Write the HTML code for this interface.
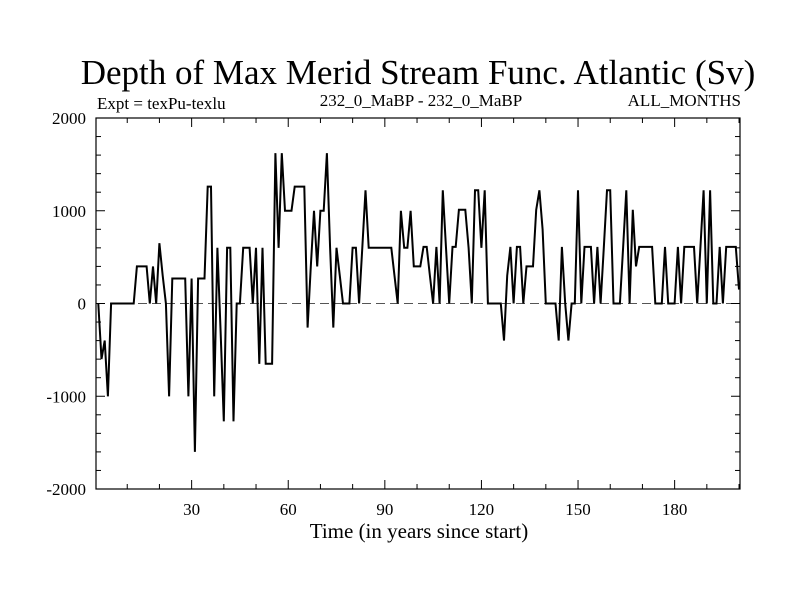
<!DOCTYPE html>
<html><head><meta charset="utf-8"><style>
body{margin:0;background:#fff;width:800px;height:600px;overflow:hidden}
text{font-family:"Liberation Serif",serif;fill:#000}
</style></head><body>
<svg id="chart" width="800" height="600" xmlns="http://www.w3.org/2000/svg">
<text x="418" y="84" font-size="35" text-anchor="middle">Depth of Max Merid Stream Func. Atlantic (Sv)</text>
<text x="97" y="109" font-size="17">Expt = texPu-texlu</text>
<text x="421" y="106" font-size="17" text-anchor="middle">232_0_MaBP - 232_0_MaBP</text>
<text x="741" y="106" font-size="17" text-anchor="end">ALL_MONTHS</text>
<text x="419" y="538" font-size="21" text-anchor="middle">Time (in years since start)</text>
<g id="axes"></g>
<g id="series"></g>
</svg>
<script>
const years = [];
for (let i = 1; i <= 200; i++) years.push(i);
const values = [
0,-600,-400,-1000,0,0,0,0,0,0,0,0,
400,400,400,400,0,400,0,650,300,0,
-1000,270,270,270,270,270,-1000,270,-1600,270,270,270,
1260,1260,-1000,600,-300,-1270,600,600,-1270,0,0,
600,600,600,0,600,-650,600,-650,-650,-650,
1620,600,1620,1000,1000,1000,1260,1260,1260,1260,
-260,400,1000,400,1000,1000,1620,600,-260,600,300,
0,0,0,600,600,0,600,1220,
600,600,600,600,600,600,600,600,300,0,
1000,600,600,1000,400,400,400,610,610,300,
0,610,0,1220,600,0,610,610,1010,1010,1010,600,0,
1220,1220,600,1220,0,0,0,0,0,-400,300,
610,0,610,610,0,400,400,400,1010,1220,800,
0,0,0,0,-400,610,0,-400,0,0,
1220,0,610,610,610,0,610,0,600,1220,1220,
0,0,0,600,1220,0,1010,400,
610,610,610,610,610,0,0,0,610,0,0,0,610,0,
610,610,610,610,0,600,1220,0,1220,0,0,
610,0,610,610,610,610,150
];
const xTicks = [30,60,90,120,150,180];
const xTickLabels = ["30","60","90","120","150","180"];
const yTicks = [-2000,-1000,0,1000,2000];
const yTickLabels = ["-2000","-1000","0","1000","2000"];

const L=96,R=740,T=118,B=489;
const X0=0.3,X1=200.3,Y0=-2000,Y1=2000;
const xs=t=>L+(t-X0)/(X1-X0)*(R-L);
const ys=v=>B-(v-Y0)/(Y1-Y0)*(B-T);
const NS="http://www.w3.org/2000/svg";
function mk(tag,attrs,parent){const e=document.createElementNS(NS,tag);for(const k in attrs)e.setAttribute(k,attrs[k]);parent.appendChild(e);return e;}
const axes=document.getElementById('axes');
const series=document.getElementById('series');

const frame=mk('rect',{x:L,y:T,width:R-L,height:B-T,fill:'none',stroke:'#000','stroke-width':1.2},axes);



const zl=mk('line',{x1:L,x2:R,y1:ys(0),y2:ys(0),stroke:'#555','stroke-width':1,'stroke-dasharray':'9,5'},axes);



for(let t=10;t<=200;t+=10){
  const major=t%30===0, len=major?9:5, x=xs(t);
  const a=mk('line',{x1:x,x2:x,y1:B,y2:B-len,stroke:'#000'},axes);
  
  
  const b=mk('line',{x1:x,x2:x,y1:T,y2:T+len,stroke:'#000'},axes);
  
  
}
xTicks.forEach((t,i)=>{
  const tx=mk('text',{x:xs(t),y:B+26,'font-size':17,'text-anchor':'middle'},axes);
  tx.textContent=xTickLabels[i];
  
  
});
for(let v=-2000;v<=2000;v+=200){
  const major=v%1000===0, len=major?9:5, y=ys(v);
  const a=mk('line',{x1:L,x2:L+len,y1:y,y2:y,stroke:'#000'},axes);
  
  
  const b=mk('line',{x1:R,x2:R-len,y1:y,y2:y,stroke:'#000'},axes);
  
  
}
yTicks.forEach((v,i)=>{
  const tx=mk('text',{x:L-10,y:ys(v)+6,'font-size':17,'text-anchor':'end'},axes);
  tx.textContent=yTickLabels[i];
  
  
});

const d=years.map((t,i)=>(i?'L':'M')+xs(t).toFixed(1)+','+ys(values[i]).toFixed(1)).join(' ');
const p=mk('path',{d:d,fill:'none',stroke:'#000','stroke-width':2,'stroke-linejoin':'miter'},series);


</script>
</body></html>
